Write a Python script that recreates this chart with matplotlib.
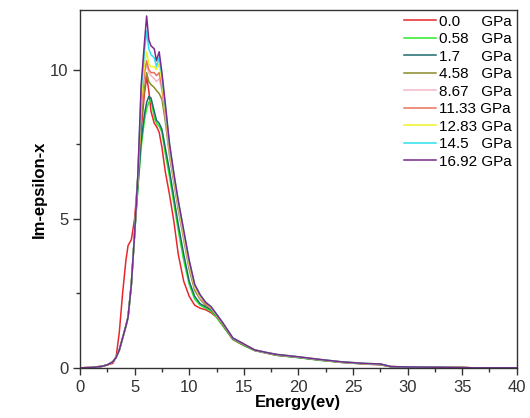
import matplotlib
matplotlib.use("Agg")
import matplotlib.pyplot as plt
from matplotlib.ticker import MultipleLocator

plt.rcParams["font.family"] = ["Liberation Sans", "DejaVu Sans"]

# Energy grid (eV)
energy = [0, 1, 2, 2.5, 3, 3.3, 3.6, 3.9, 4.2, 4.4, 4.7, 5.0, 5.3, 5.6, 5.9, 6.1,
          6.3, 6.5, 6.8, 7.0, 7.25, 7.5, 7.8, 8.2, 8.6, 9.0, 9.5, 10.0, 10.5, 11.0,
          11.5, 12.0, 12.5, 13.0, 14.0, 15.0, 16.0, 17.0, 18.0, 20.0, 22.0, 24.0,
          26.0, 27.5, 28.5, 30.0, 33.0, 35.0, 36.0, 40.0]

p_0_0 = [0, 0.01, 0.05, 0.1, 0.15, 0.35, 1.2, 2.5, 3.6, 4.1, 4.3, 5.0, 6.4, 8.0, 9.2, 9.75,
         9.3, 8.6, 8.2, 8.1, 7.9, 7.4, 6.6, 5.8, 4.9, 3.8, 2.9, 2.4, 2.1, 2.0,
         1.95, 1.85, 1.7, 1.45, 0.95, 0.75, 0.58, 0.5, 0.42, 0.35, 0.26, 0.18,
         0.13, 0.1, 0.04, 0.03, 0.02, 0.01, 0, 0]
p_0_58 = [0, 0.01, 0.05, 0.1, 0.2, 0.35, 0.6, 1.0, 1.4, 1.7, 2.8, 4.5, 6.0, 7.4, 8.3, 8.7,
          8.9, 9.0, 8.4, 8.2, 8.1, 7.9, 7.2, 6.4, 5.5, 4.6, 3.6, 2.8, 2.3, 2.1,
          2.0, 1.9, 1.7, 1.45, 0.95, 0.75, 0.58, 0.5, 0.42, 0.34, 0.25, 0.18,
          0.13, 0.11, 0.03, 0.03, 0.02, 0.01, 0, 0]
p_1_7 = [0, 0.01, 0.05, 0.1, 0.2, 0.35, 0.6, 1.0, 1.4, 1.7, 2.8, 4.5, 6.1, 7.6, 8.5, 8.9,
         9.1, 9.05, 8.6, 8.3, 8.2, 8.0, 7.4, 6.6, 5.7, 4.8, 3.8, 2.9, 2.4, 2.15,
         2.05, 1.95, 1.75, 1.5, 0.97, 0.77, 0.59, 0.51, 0.43, 0.35, 0.26, 0.19,
         0.14, 0.12, 0.04, 0.03, 0.02, 0.01, 0, 0]
p_4_58 = [0, 0.01, 0.05, 0.1, 0.2, 0.35, 0.6, 1.0, 1.4, 1.7, 2.8, 4.5, 6.3, 8.3, 9.4, 9.9,
          9.6, 9.5, 9.4, 9.3, 9.2, 9.0, 8.3, 7.1, 6.2, 5.3, 4.3, 3.3, 2.6, 2.3,
          2.1, 2.0, 1.75, 1.5, 0.98, 0.78, 0.59, 0.51, 0.44, 0.36, 0.27, 0.19,
          0.14, 0.12, 0.04, 0.03, 0.02, 0.01, 0, 0]
p_8_67 = [0, 0.01, 0.05, 0.1, 0.2, 0.35, 0.6, 1.0, 1.4, 1.7, 2.8, 4.5, 6.4, 8.7, 9.8, 10.2,
          9.9, 9.8, 9.7, 9.6, 9.7, 9.3, 8.5, 7.2, 6.3, 5.4, 4.4, 3.4, 2.7, 2.35,
          2.15, 2.0, 1.77, 1.52, 0.99, 0.79, 0.6, 0.51, 0.44, 0.36, 0.27, 0.19,
          0.14, 0.12, 0.04, 0.03, 0.02, 0.01, 0, 0]
p_11_33 = [0, 0.01, 0.05, 0.1, 0.2, 0.35, 0.6, 1.0, 1.4, 1.7, 2.8, 4.5, 6.4, 8.8, 9.9, 10.3,
           10.0, 9.9, 9.9, 9.8, 9.9, 9.4, 8.6, 7.3, 6.4, 5.5, 4.5, 3.5, 2.75, 2.4,
           2.15, 2.0, 1.78, 1.53, 0.99, 0.79, 0.6, 0.52, 0.44, 0.36, 0.27, 0.19,
           0.14, 0.12, 0.04, 0.03, 0.02, 0.01, 0, 0]
p_12_83 = [0, 0.01, 0.05, 0.1, 0.2, 0.35, 0.6, 1.0, 1.4, 1.7, 2.8, 4.5, 6.5, 9.0, 10.2, 10.6,
           10.2, 10.1, 10.1, 10.0, 10.2, 9.6, 8.7, 7.4, 6.4, 5.5, 4.5, 3.5, 2.75, 2.4,
           2.2, 2.02, 1.79, 1.54, 1.0, 0.8, 0.6, 0.52, 0.45, 0.37, 0.28, 0.2,
           0.15, 0.13, 0.04, 0.03, 0.02, 0.01, 0, 0]
p_14_5 = [0, 0.01, 0.05, 0.1, 0.2, 0.35, 0.6, 1.0, 1.4, 1.7, 2.8, 4.5, 6.5, 9.3, 10.6, 11.3,
          10.7, 10.5, 10.4, 10.1, 10.4, 9.8, 8.8, 7.5, 6.5, 5.6, 4.6, 3.6, 2.8, 2.45,
          2.2, 2.05, 1.8, 1.55, 1.0, 0.8, 0.6, 0.52, 0.45, 0.37, 0.28, 0.2,
          0.15, 0.13, 0.04, 0.03, 0.02, 0.01, 0, 0]
p_16_92 = [0, 0.01, 0.05, 0.1, 0.2, 0.35, 0.6, 1.0, 1.4, 1.7, 2.8, 4.5, 6.5, 9.5, 10.9, 11.8,
           11.0, 10.8, 10.7, 10.3, 10.6, 9.9, 8.9, 7.5, 6.5, 5.6, 4.6, 3.6, 2.8, 2.45,
           2.2, 2.05, 1.8, 1.55, 1.0, 0.8, 0.6, 0.52, 0.45, 0.37, 0.28, 0.2,
           0.15, 0.13, 0.04, 0.03, 0.02, 0.01, 0, 0]

series = [p_0_0, p_0_58, p_1_7, p_4_58, p_8_67, p_11_33, p_12_83, p_14_5, p_16_92]
labels = ["0.0     GPa", "0.58   GPa", "1.7     GPa", "4.58   GPa", "8.67   GPa",
          "11.33 GPa", "12.83 GPa", "14.5   GPa", "16.92 GPa"]
colors = ["#e8262e", "#2ee82e", "#1d6b6e", "#8c8a2c", "#f4b8c8",
          "#e8735a", "#f0f02a", "#2ee0ee", "#7a2a8c"]


def visualize_data():
    fig = plt.figure(figsize=(5.3, 4.18), dpi=100)
    ax = fig.add_axes([0.151, 0.12, 0.824, 0.856])

    # draw so the highest pressure ends up on top
    for y, lab, col in zip(series, labels, colors):
        ax.plot(energy, y, color=col, linewidth=1.1, label=lab)

    ax.set_xlim(0, 40)
    ax.set_ylim(0, 12)
    ax.xaxis.set_major_locator(MultipleLocator(5))
    ax.xaxis.set_minor_locator(MultipleLocator(2.5))
    ax.yaxis.set_major_locator(MultipleLocator(5))
    ax.yaxis.set_minor_locator(MultipleLocator(2.5))
    ax.tick_params(which="major", direction="out", length=5, width=1, labelsize=12,
                   colors="#333333")
    ax.tick_params(which="minor", direction="out", length=3, width=1, colors="#333333")
    for sp in ax.spines.values():
        sp.set_linewidth(1.0)
        sp.set_color("#333333")

    ax.set_xlabel("Energy(ev)", fontsize=12, fontweight="bold", labelpad=0)
    ax.set_ylabel("Im-epsilon-x", fontsize=12, fontweight="bold", labelpad=2)

    ax.legend(loc="upper right", frameon=False, fontsize=11, handlelength=2.1,
              handletextpad=0.2, labelspacing=0.23, borderaxespad=0.1, borderpad=0.2)

    fig.savefig("out.png", dpi=100)


if __name__ == "__main__":
    visualize_data()
